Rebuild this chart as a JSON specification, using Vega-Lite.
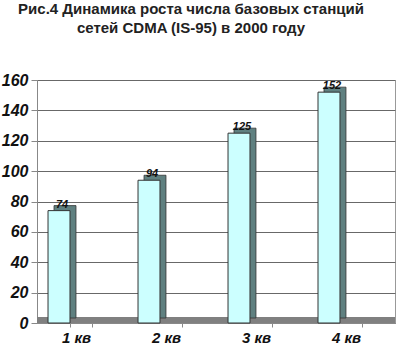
{
  "$schema": "https://vega.github.io/schema/vega-lite/v6.json",
  "width": 358,
  "height": 243,
  "autosize": "none",
  "padding": {"left": 37, "top": 80, "right": 5, "bottom": 24},
  "background": "white",
  "config": {"view": {"stroke": "#999999"}},
  "title": {
    "text": ["Рис.4 Динамика роста числа базовых станций", "сетей CDMA (IS-95) в 2000 году"],
    "font": "Liberation Sans",
    "fontSize": 15,
    "fontWeight": "bold",
    "color": "#222222",
    "lineHeight": 19,
    "anchor": "middle",
    "dx": -25,
    "offset": 36
  },
  "data": {"values": [
    {"q": "1 кв", "v": 74},
    {"q": "2 кв", "v": 94},
    {"q": "3 кв", "v": 125},
    {"q": "4 кв", "v": 152}
  ]},
  "encoding": {
    "x": {
      "field": "q", "type": "nominal", "sort": null,
      "scale": {"paddingInner": 0.756, "paddingOuter": 0.367},
      "axis": {
        "title": null, "labelAngle": 0,
        "labelFont": "Liberation Sans", "labelFontSize": 15, "labelFontWeight": "bold", "labelFontStyle": "italic",
        "labelColor": "#111111", "labelPadding": 3, "labelOffset": -5,
        "domainColor": "#888888", "tickColor": "#888888", "tickBand": "extent", "tickSize": 4
      }
    },
    "y": {
      "field": "v", "type": "quantitative",
      "scale": {"domain": [0, 160], "nice": false},
      "axis": {
        "title": null, "values": [0, 20, 40, 60, 80, 100, 120, 140, 160],
        "labelFont": "Liberation Sans", "labelFontSize": 16, "labelFontWeight": "bold", "labelFontStyle": "italic",
        "labelColor": "#111111", "labelPadding": 3,
        "grid": true, "gridColor": "#686868",
        "domainColor": "#888888", "tickColor": "#888888", "tickSize": 6
      }
    }
  },
  "layer": [
    {
      "mark": {"type": "rule", "strokeWidth": 6, "yOffset": -3, "color": "#808080"},
      "encoding": {"x": null, "y": {"datum": 0}}
    },
    {
      "mark": {"type": "bar", "color": "#5f8080", "stroke": "#333333", "strokeWidth": 0.8, "xOffset": -16, "yOffset": -5, "y2Offset": -5}
    },
    {
      "mark": {"type": "bar", "color": "#ccffff", "stroke": "#333333", "strokeWidth": 1, "xOffset": -22}
    },
    {
      "mark": {"type": "text", "font": "Liberation Sans", "fontSize": 11, "fontWeight": "bold", "fontStyle": "italic", "color": "#111111", "baseline": "bottom", "xOffset": -19, "yOffset": -1},
      "encoding": {"text": {"field": "v", "type": "quantitative"}}
    }
  ]
}
